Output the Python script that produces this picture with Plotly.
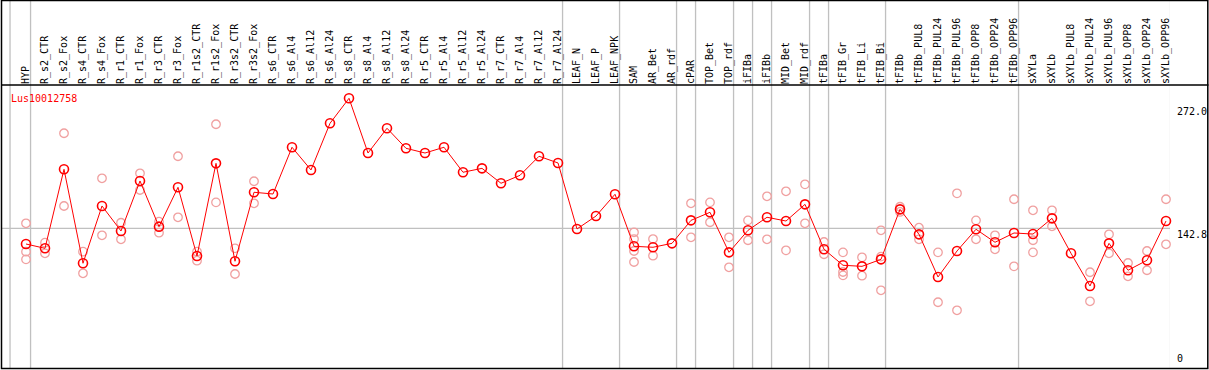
import plotly.graph_objects as go

title_text = "Lus10012758"

categories = [
    "HYP", "R_s2_CTR", "R_s2_Fox", "R_s4_CTR", "R_s4_Fox", "R_r1_CTR", "R_r1_Fox",
    "R_r3_CTR", "R_r3_Fox", "R_r1s2_CTR", "R_r1s2_Fox", "R_r3s2_CTR", "R_r3s2_Fox",
    "R_s6_CTR", "R_s6_Al4", "R_s6_Al12", "R_s6_Al24", "R_s8_CTR", "R_s8_Al4",
    "R_s8_Al12", "R_s8_Al24", "R_r5_CTR", "R_r5_Al4", "R_r5_Al12", "R_r5_Al24",
    "R_r7_CTR", "R_r7_Al4", "R_r7_Al12", "R_r7_Al24", "LEAF_N", "LEAF_P", "LEAF_NPK",
    "SAM", "AR_Bet", "AR_rdf", "cPAR", "TOP_Bet", "TOP_rdf", "iFIBa", "iFIBb",
    "MID_Bet", "MID_rdf", "tFIBa", "tFIB_Gr", "tFIB_Li", "tFIB_Bi", "tFIBb",
    "tFIBb_PUL8", "tFIBb_PUL24", "tFIBb_PUL96", "tFIBb_OPP8", "tFIBb_OPP24",
    "tFIBb_OPP96", "sXYLa", "sXYLb", "sXYLb_PUL8", "sXYLb_PUL24", "sXYLb_PUL96",
    "sXYLb_OPP8", "sXYLb_OPP24", "sXYLb_OPP96",
]

mean_values = [
    126.4, 121.9, 204.4, 106.3, 166.1, 140.0, 192.2, 144.5, 185.6, 113.9, 210.6,
    108.4, 180.4, 178.6, 227.4, 203.7, 252.4, 278.5, 221.4, 247.2, 226.3, 221.4,
    227.4, 201.3, 205.4, 189.8, 198.1, 218.0, 211.0, 142.1, 155.6, 178.3, 124.0,
    123.0, 127.1, 151.1, 159.5, 117.7, 140.7, 154.3, 150.4, 167.8, 120.9, 104.2,
    103.1, 110.4, 162.6, 136.5, 92.0, 119.1, 141.8, 128.2, 137.9, 136.8, 153.2,
    116.7, 82.6, 127.1, 99.0, 109.4, 150.4,
]

replicate_values = [
    [148.0, 118.4, 110.4], [127.8, 116.7], [242.0, 166.1], [118.4, 95.8],
    [195.0, 135.5], [148.6, 131.3], [200.2, 182.8], [149.7, 138.2],
    [218.0, 154.3], [118.4, 109.0], [251.4, 169.9], [121.9, 95.1],
    [191.9, 168.9], [], [], [], [], [], [], [], [], [], [], [], [], [], [], [], [],
    [], [], [], [138.6, 131.6, 119.1, 107.6], [131.6, 114.2], [],
    [168.9, 133.4], [169.9, 149.1], [133.4, 102.1], [151.1, 130.3],
    [176.2, 131.3], [181.4, 119.8], [188.7, 148.0], [128.5, 115.7],
    [117.7, 97.2, 93.7], [112.5, 93.3], [140.7, 113.2, 78.1], [165.3, 159.9],
    [143.4, 131.3], [117.7, 65.6], [179.3, 57.2], [151.1, 131.3],
    [135.5, 120.9], [173.1, 103.1], [161.6, 130.3, 117.7], [161.6, 144.9],
    [], [96.9, 66.6], [136.5, 116.7], [106.6, 92.7], [119.1, 99.0],
    [173.1, 126.1],
]

# indices of categories after which a group separator is drawn (-1 = before first)
group_ends = [-1, 0, 28, 31, 34, 35, 37, 38, 39, 41, 42, 45, 52, 60]

right_labels = [272.0, 142.8, 0]
reference_level = 142.8

# ---------------- figure ----------------
W, H = 1209, 370
ML, MR, MT, MB = 2, 39, 85, 2
PW = W - ML - MR
PH = H - MT - MB
STEP = 19.0  # px per category
X0 = -(26 - ML) / STEP
X1 = X0 + PW / STEP
Y_PX_PER_UNIT = 0.958
Y0 = -(PH - (365.1 - MT)) / Y_PX_PER_UNIT
Y1 = Y0 + PH / Y_PX_PER_UNIT

def px_x(p):
    return (p - ML) / PW

def px_y(p):
    return 1 - (p - MT) / PH

idx = list(range(len(categories)))
rep_x, rep_y = [], []
for i, reps in enumerate(replicate_values):
    for v in reps:
        rep_x.append(i)
        rep_y.append(v)

mono = "DejaVu Sans Mono"

fig = go.Figure()
fig.add_trace(go.Scatter(
    x=rep_x, y=rep_y, mode="markers",
    marker=dict(symbol="circle-open", size=8.5, color="#f0a0a0",
                line=dict(width=1.3, color="#f0a0a0")),
    hoverinfo="skip", showlegend=False, cliponaxis=False,
))
fig.add_trace(go.Scatter(
    x=idx, y=mean_values, mode="lines+markers",
    line=dict(color="#ff0000", width=1),
    marker=dict(symbol="circle-open", size=9, color="#ff0000",
                line=dict(width=1.6, color="#ff0000")),
    showlegend=False, cliponaxis=False,
))

shapes = []
for g in group_ends:
    xg = g + 0.24 if g >= 0 else g + 0.16
    shapes.append(dict(type="line", xref="x", yref="paper",
                       x0=xg, x1=xg, y0=px_y(369), y1=px_y(0),
                       line=dict(color="#c0c0c0", width=1.3), layer="below"))
shapes.append(dict(type="line", xref="paper", yref="y",
                   x0=0, x1=1, y0=reference_level, y1=reference_level,
                   line=dict(color="#c0c0c0", width=1.3), layer="below"))
# header separator and outer frame
shapes.append(dict(type="line", xref="paper", yref="paper",
                   x0=px_x(1), x1=px_x(1208.5), y0=1, y1=1,
                   line=dict(color="black", width=1.5)))
shapes.append(dict(type="rect", xref="paper", yref="paper",
                   x0=px_x(1.5), x1=px_x(1207.8), y0=px_y(368.5), y1=px_y(0.5),
                   line=dict(color="black", width=1.5)))

annotations = [dict(text=title_text, xref="paper", yref="paper",
                    x=px_x(9), y=px_y(91), xanchor="left", yanchor="top",
                    showarrow=False, font=dict(family=mono, size=10, color="#ff0000"))]
for v in right_labels:
    txt = "0" if v == 0 else f"{v:.1f}"
    annotations.append(dict(text=txt, xref="paper", yref="y",
                            x=px_x(1176), y=v, xanchor="left",
                            yanchor="bottom" if v == 0 else "top",
                            showarrow=False, borderpad=0,
                            font=dict(family=mono, size=10, color="black")))

fig.update_layout(
    width=W, height=H,
    margin=dict(l=ML, r=MR, t=MT, b=MB),
    paper_bgcolor="white", plot_bgcolor="white",
    xaxis=dict(range=[X0, X1], side="top", tickmode="array", tickvals=idx,
               ticktext=categories, tickangle=-90, ticks="",
               tickfont=dict(family=mono, size=10, color="black"),
               showgrid=False, zeroline=False, showline=False, fixedrange=True),
    yaxis=dict(range=[Y0, Y1], showticklabels=False, showgrid=False,
               zeroline=False, showline=False, fixedrange=True),
    shapes=shapes, annotations=annotations,
)

fig.write_html("out.html", config={"displayModeBar": False},
               post_script="document.body.style.margin='0';document.body.style.padding='0';")
